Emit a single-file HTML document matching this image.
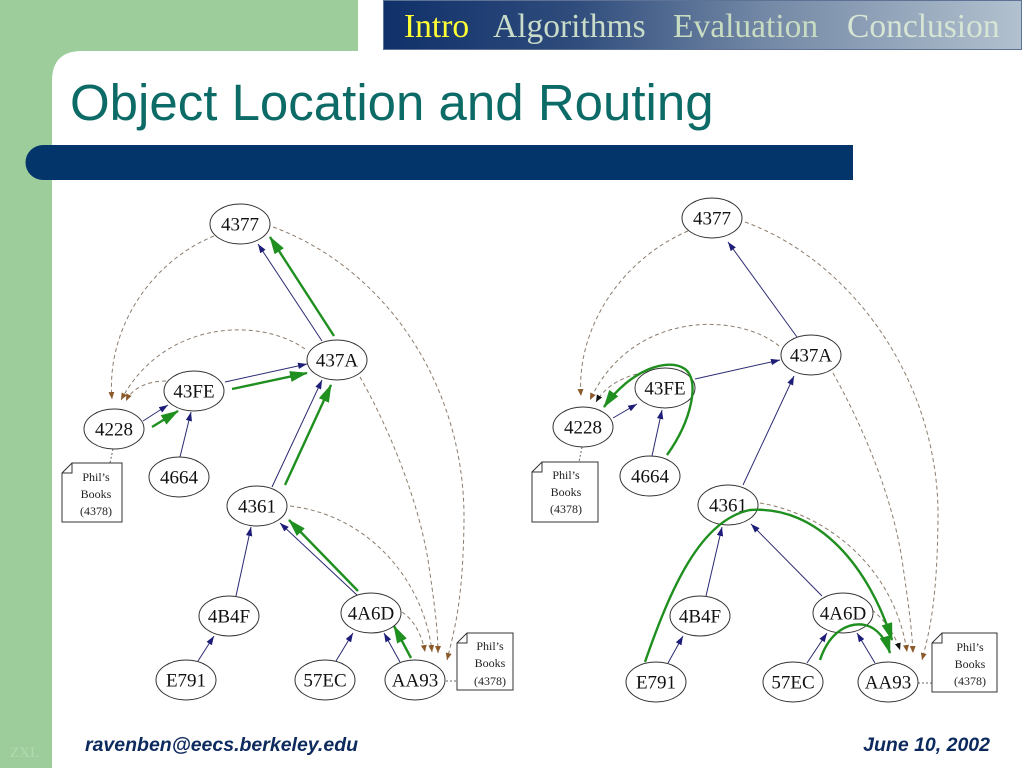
<!DOCTYPE html>
<html>
<head>
<meta charset="utf-8">
<style>
  html,body{margin:0;padding:0;background:#fff;}
  body{width:1024px;height:768px;overflow:hidden;position:relative;}
  svg{position:absolute;left:0;top:0;}
  .nt{font-family:"Liberation Serif",serif;font-size:19px;fill:#111;text-anchor:middle;}
  .bk{font-family:"Liberation Serif",serif;font-size:12px;fill:#222;text-anchor:middle;}
</style>
</head>
<body>
<svg width="1024" height="768" viewBox="0 0 1024 768" xmlns="http://www.w3.org/2000/svg">
  <defs>
    <linearGradient id="nav" x1="383" y1="0" x2="1022" y2="0" gradientUnits="userSpaceOnUse">
      <stop offset="0" stop-color="#10306a"/>
      <stop offset="0.3" stop-color="#2f4c7c"/>
      <stop offset="0.6" stop-color="#7489a6"/>
      <stop offset="1" stop-color="#b2c1cf"/>
    </linearGradient>
    <marker id="mb" markerWidth="9" markerHeight="7" refX="9" refY="3.2" orient="auto" markerUnits="userSpaceOnUse">
      <path d="M0,0 L9,3.2 L0,6.4 Z" fill="#1e1e78"/>
    </marker>
    <marker id="mg" markerWidth="18" markerHeight="11" refX="17" refY="5.5" orient="auto" markerUnits="userSpaceOnUse">
      <path d="M0,0 L18,5.5 L0,11 Z" fill="#1f8f1f"/>
    </marker>
    <marker id="mr" markerWidth="8" markerHeight="7" refX="7" refY="3" orient="auto" markerUnits="userSpaceOnUse">
      <path d="M0,0 L7,3 L0,6 Z" fill="#8b5a2b"/>
    </marker>
    <marker id="mk" markerWidth="8" markerHeight="7" refX="7" refY="3" orient="auto" markerUnits="userSpaceOnUse">
      <path d="M0,0 L7,3 L0,6 Z" fill="#111"/>
    </marker>
  </defs>

  <!-- background frame -->
  <rect x="0" y="0" width="1024" height="768" fill="#ffffff"/>
  <rect x="0" y="0" width="52" height="768" fill="#9ecd9c"/>
  <rect x="0" y="0" width="358" height="100" fill="#9ecd9c"/>
  <!-- white rounded corner -->
  <path d="M52,81 Q52,51 82,51 L358,51 L358,110 L52,110 Z" fill="#ffffff"/>

  <!-- nav bar -->
  <rect x="383.5" y="0.5" width="638" height="49" fill="url(#nav)" stroke="#5d7294" stroke-width="1"/>
  <g font-family="'Liberation Serif',serif" font-size="33.5px">
    <text x="404" y="37" fill="#ffff33">Intro</text>
    <text x="493" y="37" fill="#c9dcc9">Algorithms</text>
    <text x="673" y="37" fill="#c8dcc2">Evaluation</text>
    <text x="847" y="37" fill="#d6e5d4">Conclusion</text>
  </g>

  <!-- title -->
  <text x="70" y="120" font-family="'Liberation Sans',sans-serif" font-size="51px" fill="#0d6b67">Object Location and Routing</text>

  <!-- blue bar -->
  <path d="M43,145 L853,145 L853,180 L43,180 A17.5,17.5 0 0 1 43,145 Z" fill="#04356a"/>

  <!-- footer -->
  <text x="10" y="757" font-family="'Liberation Serif',serif" font-size="15px" fill="#b2d9b0">ZXL</text>
  <text x="85" y="751" font-family="'Liberation Sans',sans-serif" font-size="19.5px" font-weight="bold" font-style="italic" fill="#0d2a5e">ravenben@eecs.berkeley.edu</text>
  <text x="990" y="751" text-anchor="end" font-family="'Liberation Sans',sans-serif" font-size="19.5px" font-weight="bold" font-style="italic" fill="#0d2a5e">June 10, 2002</text>

  <!-- ================= LEFT DIAGRAM ================= -->
  <g fill="none" stroke="#8c7d6e" stroke-width="1" stroke-dasharray="4 3">
    <path d="M214,236 C150,262 106,330 112,399" marker-end="url(#mr)"/>
    <path d="M305,349 C262,318 165,318 121,400" marker-end="url(#mr)"/>
    <path d="M166,381 C148,381 132,388 126,401" marker-end="url(#mr)"/>
    <path d="M273,227 C385,268 465,385 464,520 C463,600 455,628 447,660" marker-end="url(#mr)"/>
    <path d="M360,377 C390,430 418,500 428,560 C434,600 438,630 438,653" marker-end="url(#mr)"/>
    <path d="M290,506 C368,515 424,580 432,652" marker-end="url(#mr)"/>
    <path d="M402,612 C414,620 422,635 425,652" marker-end="url(#mr)"/>
  </g>
  <g fill="none" stroke="#666" stroke-width="1" stroke-dasharray="2 2">
    <path d="M446,681 L457,681"/>
    <path d="M113,449 L110,463"/>
  </g>
  <g stroke="#2a2a72" stroke-width="1" fill="none">
    <line x1="322" y1="341" x2="258" y2="244" marker-end="url(#mb)"/>
    <line x1="225" y1="382" x2="307" y2="364" marker-end="url(#mb)"/>
    <line x1="143" y1="421" x2="168" y2="405" marker-end="url(#mb)"/>
    <line x1="180" y1="457" x2="191" y2="412" marker-end="url(#mb)"/>
    <line x1="272" y1="487" x2="322" y2="380" marker-end="url(#mb)"/>
    <line x1="236" y1="596" x2="251" y2="527" marker-end="url(#mb)"/>
    <line x1="198" y1="661" x2="214" y2="636" marker-end="url(#mb)"/>
    <line x1="358" y1="596" x2="280" y2="523" marker-end="url(#mb)"/>
    <line x1="336" y1="661" x2="353" y2="633" marker-end="url(#mb)"/>
    <line x1="400" y1="662" x2="384" y2="633" marker-end="url(#mb)"/>
  </g>
  <g stroke="#1f8f1f" stroke-width="2.4" fill="none">
    <line x1="152" y1="427" x2="178" y2="411" marker-end="url(#mg)"/>
    <line x1="232" y1="389" x2="307" y2="373" marker-end="url(#mg)"/>
    <line x1="334" y1="336" x2="270" y2="237" marker-end="url(#mg)"/>
    <line x1="285" y1="485" x2="331" y2="385" marker-end="url(#mg)"/>
    <line x1="358" y1="591" x2="289" y2="520" marker-end="url(#mg)"/>
    <line x1="411" y1="658" x2="394" y2="626" marker-end="url(#mg)"/>
  </g>
  <g fill="#fff" stroke="#333" stroke-width="1">
    <ellipse cx="240" cy="224" rx="30" ry="20"/>
    <ellipse cx="337" cy="360" rx="30" ry="20"/>
    <ellipse cx="194" cy="391" rx="30" ry="20"/>
    <ellipse cx="114" cy="429" rx="30" ry="20"/>
    <ellipse cx="179" cy="477" rx="30" ry="20"/>
    <ellipse cx="257" cy="506" rx="30" ry="20"/>
    <ellipse cx="229" cy="616" rx="30" ry="20"/>
    <ellipse cx="371" cy="613" rx="30" ry="20"/>
    <ellipse cx="186" cy="680" rx="30" ry="20"/>
    <ellipse cx="325" cy="680" rx="30" ry="20"/>
    <ellipse cx="415" cy="680" rx="30" ry="20"/>
    <!-- notes -->
    <path d="M72,463 L122,463 L122,522 L62,522 L62,473 Z"/>
    <path d="M62,473 L72,473 L72,463" fill="none"/>
    <path d="M467,633 L513,633 L513,690 L457,690 L457,643 Z"/>
    <path d="M457,643 L467,643 L467,633" fill="none"/>
  </g>
  <g>
    <text class="nt" x="240" y="230.5">4377</text>
    <text class="nt" x="337" y="366.5">437A</text>
    <text class="nt" x="194" y="397.5">43FE</text>
    <text class="nt" x="114" y="435.5">4228</text>
    <text class="nt" x="179" y="483.5">4664</text>
    <text class="nt" x="257" y="512.5">4361</text>
    <text class="nt" x="229" y="622.5">4B4F</text>
    <text class="nt" x="371" y="619.5">4A6D</text>
    <text class="nt" x="186" y="686.5">E791</text>
    <text class="nt" x="325" y="686.5">57EC</text>
    <text class="nt" x="415" y="686.5">AA93</text>
  </g>
  <text class="bk" x="96" y="481">Phil’s</text>
  <text class="bk" x="96" y="498">Books</text>
  <text class="bk" x="96" y="515">(4378)</text>
  <text class="bk" x="490" y="650">Phil’s</text>
  <text class="bk" x="490" y="667">Books</text>
  <text class="bk" x="490" y="685">(4378)</text>

  <!-- ================= RIGHT DIAGRAM ================= -->
  <g fill="none" stroke="#8c7d6e" stroke-width="1" stroke-dasharray="4 3">
    <path d="M688,231 C620,260 576,330 581,396" marker-end="url(#mr)"/>
    <path d="M779,346 C738,312 632,310 590,400" marker-end="url(#mr)"/>
    <path d="M637,374 C620,378 604,388 596,402" marker-end="url(#mk)"/>
    <path d="M745,222 C850,260 940,380 938,520 C937,600 930,630 922,660" marker-end="url(#mr)"/>
    <path d="M833,373 C865,430 893,500 902,560 C908,600 912,630 913,653" marker-end="url(#mr)"/>
    <path d="M760,503 C830,515 895,570 907,652" marker-end="url(#mr)"/>
    <path d="M872,610 C885,620 895,635 900,650" marker-end="url(#mk)"/>
  </g>
  <g fill="none" stroke="#666" stroke-width="1" stroke-dasharray="2 2">
    <path d="M918,683 L932,683"/>
    <path d="M582,447 L579,462"/>
  </g>
  <g stroke="#2a2a72" stroke-width="1" fill="none">
    <line x1="797" y1="337" x2="728" y2="242" marker-end="url(#mb)"/>
    <line x1="695" y1="379" x2="780" y2="360" marker-end="url(#mb)"/>
    <line x1="613" y1="418" x2="637" y2="404" marker-end="url(#mb)"/>
    <line x1="652" y1="456" x2="662" y2="410" marker-end="url(#mb)"/>
    <line x1="743" y1="485" x2="794" y2="376" marker-end="url(#mb)"/>
    <line x1="706" y1="596" x2="722" y2="527" marker-end="url(#mb)"/>
    <line x1="668" y1="663" x2="683" y2="636" marker-end="url(#mb)"/>
    <line x1="822" y1="596" x2="751" y2="524" marker-end="url(#mb)"/>
    <line x1="807" y1="663" x2="827" y2="633" marker-end="url(#mb)"/>
    <line x1="875" y1="663" x2="857" y2="633" marker-end="url(#mb)"/>
  </g>
  <g fill="#fff" stroke="#333" stroke-width="1">
    <ellipse cx="712" cy="218" rx="30" ry="20"/>
    <ellipse cx="811" cy="355" rx="30" ry="20"/>
    <ellipse cx="665" cy="388" rx="30" ry="20"/>
    <ellipse cx="583" cy="427" rx="30" ry="20"/>
    <ellipse cx="650" cy="476" rx="30" ry="20"/>
    <ellipse cx="728" cy="505" rx="30" ry="20"/>
    <ellipse cx="700" cy="616" rx="30" ry="20"/>
    <ellipse cx="843" cy="613" rx="30" ry="20"/>
    <ellipse cx="656" cy="682" rx="30" ry="20"/>
    <ellipse cx="793" cy="682" rx="30" ry="20"/>
    <ellipse cx="888" cy="682" rx="30" ry="20"/>
    <path d="M542,462 L598,462 L598,522 L532,522 L532,472 Z"/>
    <path d="M532,472 L542,472 L542,462" fill="none"/>
    <path d="M942,633 L997,633 L997,692 L932,692 L932,643 Z"/>
    <path d="M932,643 L942,643 L942,633" fill="none"/>
  </g>
  <g>
    <text class="nt" x="712" y="224.5">4377</text>
    <text class="nt" x="811" y="361.5">437A</text>
    <text class="nt" x="665" y="394.5">43FE</text>
    <text class="nt" x="583" y="433.5">4228</text>
    <text class="nt" x="650" y="482.5">4664</text>
    <text class="nt" x="728" y="511.5">4361</text>
    <text class="nt" x="700" y="622.5">4B4F</text>
    <text class="nt" x="843" y="619.5">4A6D</text>
    <text class="nt" x="656" y="688.5">E791</text>
    <text class="nt" x="793" y="688.5">57EC</text>
    <text class="nt" x="888" y="688.5">AA93</text>
  </g>
  <text class="bk" x="566" y="479">Phil’s</text>
  <text class="bk" x="566" y="496">Books</text>
  <text class="bk" x="566" y="513">(4378)</text>
  <text class="bk" x="970" y="651">Phil’s</text>
  <text class="bk" x="970" y="668">Books</text>
  <text class="bk" x="970" y="685">(4378)</text>

  <!-- right green routes (drawn over nodes) -->
  <g stroke="#1f8f1f" stroke-width="2.4" fill="none">
    <path d="M667,455 C692,420 700,380 685,369 C668,357 630,370 604,407" marker-end="url(#mg)"/>
    <path d="M645,662 C670,590 700,520 750,510 C820,505 870,570 892,640" marker-end="url(#mg)"/>
    <path d="M820,660 C830,630 850,622 865,625 C878,628 886,640 890,653" marker-end="url(#mg)"/>
  </g>
</svg>
</body>
</html>
